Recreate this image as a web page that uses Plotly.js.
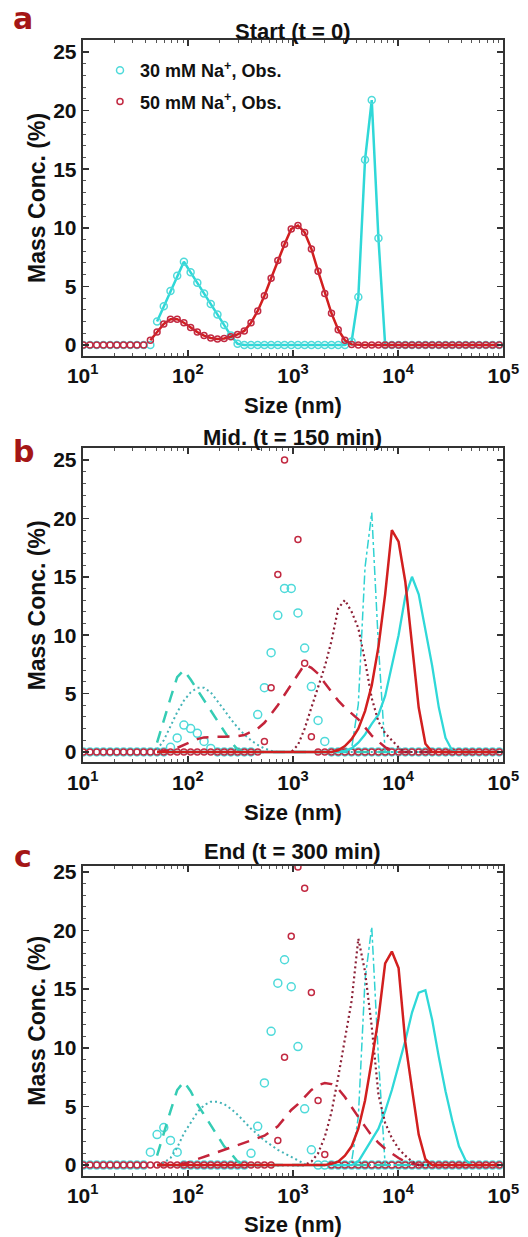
<!DOCTYPE html>
<html>
<head>
<meta charset="utf-8">
<script src="https://cdn.plot.ly/plotly-3.0.1.min.js"></script>
<style>html,body{margin:0;padding:0;background:#fff;}#chart{width:528px;height:1237px;}</style>
</head>
<body>
<div id="chart"></div>
<script>
// Size bins (nm)
const sizeNm = [10.13, 11.73, 13.59, 15.74, 18.23, 21.12, 24.46, 28.33, 32.81, 38.00, 44.02, 50.98, 59.05, 68.39, 79.21, 91.75, 106.3, 123.1, 142.6, 165.2, 191.3, 221.6, 256.6, 297.2, 344.3, 398.8, 461.8, 534.9, 619.4, 717.5, 831.0, 962.5, 1115, 1291, 1496, 1732, 2006, 2323, 2692, 3117, 3611, 4182, 4843, 5610, 6497, 7525, 8716, 10097, 11695, 13545, 15688, 18170, 21045, 24378, 28234, 32701, 37874, 43866, 50816, 58857, 68170, 78957, 91450];

// Panel a: Start (t = 0) observed
const obs30_a = [0,0,0,0,0,0,0,0,0,0,0, 2.0,3.3,4.6,5.9,7.1,6.2,5.3,4.4,3.5,2.6,1.7,0.8,0.1, 0,0,0,0,0,0,0,0,0,0,0,0,0,0,0,0, 0.3,4.1,15.8,20.9,9.1, 0,0,0,0,0,0,0,0,0,0,0,0,0,0,0,0,0,0];
const obs50_a = [0,0,0,0,0,0,0,0,0,0, 0.4,1.1,1.8,2.2,2.2,1.9,1.5,1.1,0.8,0.6,0.5,0.55,0.7,0.9,1.2,1.9,2.9,4.2,5.7,7.2,8.6,9.9,10.2,9.6,8.2,6.3,4.4,2.7,1.3,0.4,0.05, 0,0,0,0,0,0,0,0,0,0,0,0,0,0,0,0,0,0,0,0,0,0];

// Panel b: Mid. (t = 150 min)
const obs30_b = [0,0,0,0,0,0,0,0,0,0,0,0,0, 0.4,1.2,2.3,2.0,1.6,0.9,0.3, 0,0,0,0,0,0, 3.2,5.5,8.5,11.7,14.0,14.0,11.9,8.9,5.6,2.7,0.9, 0,0,0,0,0,0,0,0,0,0,0,0,0,0,0,0,0,0,0,0,0,0,0,0,0,0];
const obs50_b = [0,0,0,0,0,0,0,0,0,0,0,0,0,0,0,0,0,0,0,0,0,0,0,0,0,0,0, 0.9,5.5,15.2,25.0,27.5,18.2,7.6,1.3, 0,0,0,0,0,0,0,0,0,0,0,0,0,0,0,0,0,0,0,0,0,0,0,0,0,0,0,0];
const n = null;
const c30dash_b = [n,n,n,n,n,n,n,n,n,n,n, 0.8,2.8,4.6,6.4,7.0,6.2,5.3,4.4,3.5,2.6,1.7,0.9,0.2, 0,0,0,0,0,0,0,0,0,0,0,0,0,0,0,0,0,0,0,0,0,0,0,0,0,0,0,0,0,0,0,0,0,0,0];
const c30dashdot_b = [n,n,n,n,n,n,n,n,n,n,n, 0,0,0,0,0,0,0,0,0,0,0,0,0,0,0,0,0,0,0,0,0,0,0,0,0,0,0,0,0, 0.3,4.1,15.8,20.5,9.1, 0,0,0,0,0,0,0,0,0,0,0,0,0,0,0,0,0,0];
const c30dot_b = [n,n,n,n,n,n,n,n,n,n,n, 0.2,1.0,2.2,3.4,4.4,5.1,5.5,5.5,5.1,4.4,3.6,2.8,2.1,1.5,1.0,0.6,0.3,0.1, 0,0,0,0,0,0,0,0,0,0,0,0,0,0,0,0,0,0,0,0,0,0,0,0,0,0,0,0,0,0,0,0,0,0];
const c30solid_b = [n,n,n,n,n,n,n,n,n,n,n, 0,0,0,0,0,0,0,0,0,0,0,0,0,0,0,0,0,0,0,0,0,0,0,0,0,0,0,0, 0.1,0.3,0.8,1.5,2.4,3.2,4.8,7.4,10.0,13.3,15.0,13.5,10.6,7.4,3.8,1.2,0.1, 0,0,0,0,0,0,0];
const c50dash_b = [n,n,n,n,n,n,n,n,n,n,n, 0,0.05,0.15,0.35,0.6,0.9,1.1,1.25,1.3,1.3,1.3,1.3,1.35,1.45,1.7,2.0,2.5,3.2,4.0,4.9,5.8,6.6,7.5,7.2,6.7,5.9,5.1,4.4,3.8,3.3,2.8,2.1,1.4,0.9,0.4,0.15, 0,0,0,0,0,0,0,0,0,0,0,0,0,0,0,0];
const c50dot_b = [n,n,n,n,n,n,n,n,n,n,n, 0,0,0,0,0,0,0,0,0,0,0,0,0,0,0,0,0,0,0,0,0, 0.6,2.0,3.8,5.6,7.3,9.5,12.3,13.0,12.0,10.6,7.8,4.6,2.6,1.6,1.0,0.4, 0,0,0,0,0,0,0,0,0,0,0,0,0,0,0];
const c50solid_b = [n,n,n,n,n,n,n,n,n,n,n, 0,0,0,0,0,0,0,0,0,0,0,0,0,0,0,0,0,0,0,0,0,0,0,0,0,0,0, 0.15,0.5,1.1,2.0,3.5,5.7,9.0,13.5,19.0,18.0,14.6,9.0,3.8,0.7, 0,0,0,0,0,0,0,0,0,0,0];

// Panel c: End (t = 300 min)
const obs30_c = [0,0,0,0,0,0,0,0,0,0, 1.1,2.6,3.2,2.1,1.1, 0,0,0,0,0,0,0,0,0,0, 1.0,3.3,7.0,11.4,15.5,17.5,15.2,10.1,4.8,1.3, 0,0,0,0,0,0,0,0,0,0,0,0,0,0,0,0,0,0,0,0,0,0,0,0,0,0,0,0];
const obs50_c = [0,0,0,0,0,0,0,0,0,0,0,0,0,0,0,0,0,0,0,0,0,0,0,0,0,0,0,0,0, 2.1,9.2,19.5,25.4,23.6,14.7,5.5,0.9, 0,0,0,0,0,0,0,0,0,0,0,0,0,0,0,0,0,0,0,0,0,0,0,0,0,0];
const c30dash_c = [n,n,n,n,n,n,n,n,n,n,n, 0.8,2.8,4.6,6.4,7.1,6.3,5.2,4.3,3.4,2.5,1.6,1.0,0.3, 0,0,0,0,0,0,0,0,0,0,0,0,0,0,0,0,0,0,0,0,0,0,0,0,0,0,0,0,0,0,0,0,0,0,0];
const c30dashdot_c = [n,n,n,n,n,n,n,n,n,n,n, 0,0,0,0,0,0,0,0,0,0,0,0,0,0,0,0,0,0,0,0,0,0,0,0,0,0,0,0,0, 0.3,4.1,15.8,20.3,9.1, 0,0,0,0,0,0,0,0,0,0,0,0,0,0,0,0,0,0];
const c30dot_c = [n,n,n,n,n,n,n,n,n,n,n, 0,0.2,0.6,1.5,2.7,3.6,4.5,5.1,5.4,5.4,5.2,4.8,4.3,3.7,3.1,2.6,2.1,1.7,1.3,1.0,0.7,0.4,0.1, 0,0,0,0,0,0,0,0,0,0,0,0,0,0,0,0,0,0,0,0,0,0,0,0,0,0,0,0,0];
const c30solid_c = [n,n,n,n,n,n,n,n,n,n,n, 0,0,0,0,0,0,0,0,0,0,0,0,0,0,0,0,0,0,0,0,0,0,0,0,0,0,0,0,0,0, 0.3,1.2,2.1,3.1,4.6,6.4,8.5,10.6,13.0,14.7,14.9,12.4,9.2,6.3,3.8,1.6,0.4, 0,0,0,0,0];
const c50dash_c = [n,n,n,n,n,n,n,n,n,n,n, 0,0,0,0, 0.1,0.3,0.5,0.7,0.9,1.1,1.3,1.5,1.7,1.9,2.1,2.3,2.5,2.9,3.3,4.0,4.7,5.2,5.8,6.4,6.8,7.0,6.9,6.5,5.8,4.9,4.1,3.3,2.5,1.9,1.4,1.0,0.6,0.3,0.1, 0,0,0,0,0,0,0,0,0,0,0,0,0];
const c50dot_c = [n,n,n,n,n,n,n,n,n,n,n, 0,0,0,0,0,0,0,0,0,0,0,0,0,0,0,0,0,0,0,0,0,0,0, 0.3,1.0,2.4,4.5,7.5,10.8,14.0,19.3,16.5,11.8,6.0,3.6,2.3,1.4,0.8,0.3, 0,0,0,0,0,0,0,0,0,0,0,0,0];
const c50solid_c = [n,n,n,n,n,n,n,n,n,n,n, 0,0,0,0,0,0,0,0,0,0,0,0,0,0,0,0,0,0,0,0,0,0,0,0,0,0, 0.1,0.3,0.8,1.6,3.1,5.5,8.9,12.5,17.2,18.2,16.8,10.5,6.5,2.6,0.5, 0,0,0,0,0,0,0,0,0,0,0];

const xTickVals = [10, 100, 1000, 10000, 100000];
const xTickText = ['10<sup>1</sup>', '10<sup>2</sup>', '10<sup>3</sup>', '10<sup>4</sup>', '10<sup>5</sup>'];
const yTickVals = [0, 5, 10, 15, 20, 25];
const panelTitles = ['Start (t = 0)', 'Mid. (t = 150 min)', 'End (t = 300 min)'];
const panelLetters = ['a', 'b', 'c'];
const legendNames = ['30 mM Na<sup>+</sup>, Obs.', '50 mM Na<sup>+</sup>, Obs.'];

const CY_OBS = '#4fdada', RD_OBS = '#c22a42';
const CY = '#2fd8d8', CY_DASH = '#35ccb4', CY_DOT = '#45b4b8', CY_DD = '#30d2d2';
const RD = '#d21f1f', RD_DASH = '#c3243a', RD_DOT = '#8c2036';

function obsTrace(y, ax, color, size, name, show, grp) {
  return {type:'scatter', mode:'markers', x:sizeNm, y:y, xaxis:'x'+ax, yaxis:'y'+ax,
    marker:{symbol:'circle-open', size:size, color:color, line:{width:1.5, color:color}},
    name:name, showlegend:show, legendgroup:grp, hoverinfo:'skip'};
}
function lineTrace(y, ax, color, dash, width) {
  return {type:'scatter', mode:'lines', x:sizeNm, y:y, xaxis:'x'+ax, yaxis:'y'+ax,
    line:{color:color, dash:dash, width:width}, showlegend:false, hoverinfo:'skip', connectgaps:false};
}

const lineA30 = obs30_a.map((v,i)=> i < 11 ? null : v);
const lineA50 = obs50_a.map((v,i)=> i < 10 ? null : v);

const traces = [
  lineTrace(lineA30, '', CY, 'solid', 2.5),
  obsTrace(obs30_a, '', CY_OBS, 7, legendNames[0], true, 'g1'),
  lineTrace(lineA50, '', RD, 'solid', 2.5),
  obsTrace(obs50_a, '', RD_OBS, 6, legendNames[1], true, 'g2'),

  obsTrace(obs30_b, '2', CY_OBS, 8, legendNames[0], false, 'g1'),
  obsTrace(obs50_b, '2', RD_OBS, 6, legendNames[1], false, 'g2'),
  lineTrace(c30dash_b, '2', CY_DASH, '12px,9px', 2.5),
  lineTrace(c30dot_b, '2', CY_DOT, '2px,3px', 2),
  lineTrace(c30dashdot_b, '2', CY_DD, 'dashdot', 1.5),
  lineTrace(c30solid_b, '2', CY, 'solid', 2.3),
  lineTrace(c50dash_b, '2', RD_DASH, '12px,9px', 2.5),
  lineTrace(c50dot_b, '2', RD_DOT, '2px,3px', 2.2),
  lineTrace(c50solid_b, '2', RD, 'solid', 2.5),

  obsTrace(obs30_c, '3', CY_OBS, 8, legendNames[0], false, 'g1'),
  obsTrace(obs50_c, '3', RD_OBS, 6, legendNames[1], false, 'g2'),
  lineTrace(c30dash_c, '3', CY_DASH, '12px,9px', 2.5),
  lineTrace(c30dot_c, '3', CY_DOT, '2px,3px', 2),
  lineTrace(c30dashdot_c, '3', CY_DD, 'dashdot', 1.5),
  lineTrace(c30solid_c, '3', CY, 'solid', 2.3),
  lineTrace(c50dash_c, '3', RD_DASH, '12px,9px', 2.5),
  lineTrace(c50dot_c, '3', RD_DOT, '2px,3px', 2.2),
  lineTrace(c50solid_c, '3', RD, 'solid', 2.5)
];

const FONT = 'Liberation Sans, Arial, Helvetica, sans-serif';
function xAxis(anchor) {
  return {type:'log', range:[1,5], anchor:anchor, domain:[0.1566, 0.9532],
    tickmode:'array', tickvals:xTickVals, ticktext:xTickText,
    ticks:'inside', ticklen:6, tickwidth:1.5, tickcolor:'#333',
    showline:true, linewidth:2, linecolor:'#333', mirror:'ticks',
    showgrid:false, zeroline:false, ticklabelstandoff:0,
    minor:{ticks:'inside', ticklen:3, tickwidth:1, tickcolor:'#555', dtick:'D1', showgrid:false},
    tickfont:{family:FONT, size:21, weight:'bold', color:'#111'},
    title:{text:'Size (nm)', font:{family:FONT, size:22, weight:'bold', color:'#111'}, standoff:12}};
}
function yAxis(anchor, domain, top) {
  return {range:[-0.9, top], anchor:anchor, domain:domain,
    tickmode:'array', tickvals:yTickVals,
    ticks:'inside', ticklen:6, tickwidth:1.5, tickcolor:'#333',
    showline:true, linewidth:2, linecolor:'#333', mirror:'ticks',
    showgrid:false, zeroline:false,
    minor:{ticks:'inside', ticklen:3, tickwidth:1, tickcolor:'#555', dtick:1, showgrid:false},
    tickfont:{family:FONT, size:21, weight:'bold', color:'#111'},
    title:{text:'Mass Conc. (%)', font:{family:FONT, size:23, weight:'bold', color:'#111'}, standoff:1}};
}

const titleY = [1 - 32/1237, 1 - 437/1237, 1 - 852/1237];
const letterY = [1, 1 - 433/1237, 1 - 838/1237];
const annotations = [];
for (let k = 0; k < 3; k++) {
  annotations.push({xref:'paper', yref:'paper', x:0.5549, y:titleY[k], xanchor:'center', yanchor:'middle',
    text:panelTitles[k], showarrow:false, font:{family:FONT, size:22, weight:'bold', color:'#111'}});
  annotations.push({xref:'paper', yref:'paper', x:23/528, y:letterY[k], xanchor:'center', yanchor:'top',
    text:panelLetters[k], showarrow:false, borderpad:0,
    font:{family:'DejaVu Sans, sans-serif', size:30, weight:'bold', color:'#a41616'}});
}

const layout = {
  width:528, height:1237, margin:{l:0, r:0, t:0, b:0},
  paper_bgcolor:'#ffffff', plot_bgcolor:'#ffffff',
  font:{family:FONT, size:19, color:'#111'},
  showlegend:true,
  legend:{x:100/528, y:1 - 52/1237, xanchor:'left', yanchor:'top', bgcolor:'rgba(0,0,0,0)',
    font:{family:FONT, size:18, weight:'bold', color:'#111'}, tracegroupgap:5, traceorder:'grouped'},
  xaxis:xAxis('y'), yaxis:yAxis('x', [0.7126, 0.9674], 26),
  xaxis2:xAxis('y2'), yaxis2:yAxis('x2', [0.3836, 0.6376], 26),
  xaxis3:xAxis('y3'), yaxis3:yAxis('x3', [0.0496, 0.3000], 25.5),
  annotations:annotations
};

Plotly.newPlot('chart', traces, layout, {staticPlot:true, displayModeBar:false});
</script>
</body>
</html>
